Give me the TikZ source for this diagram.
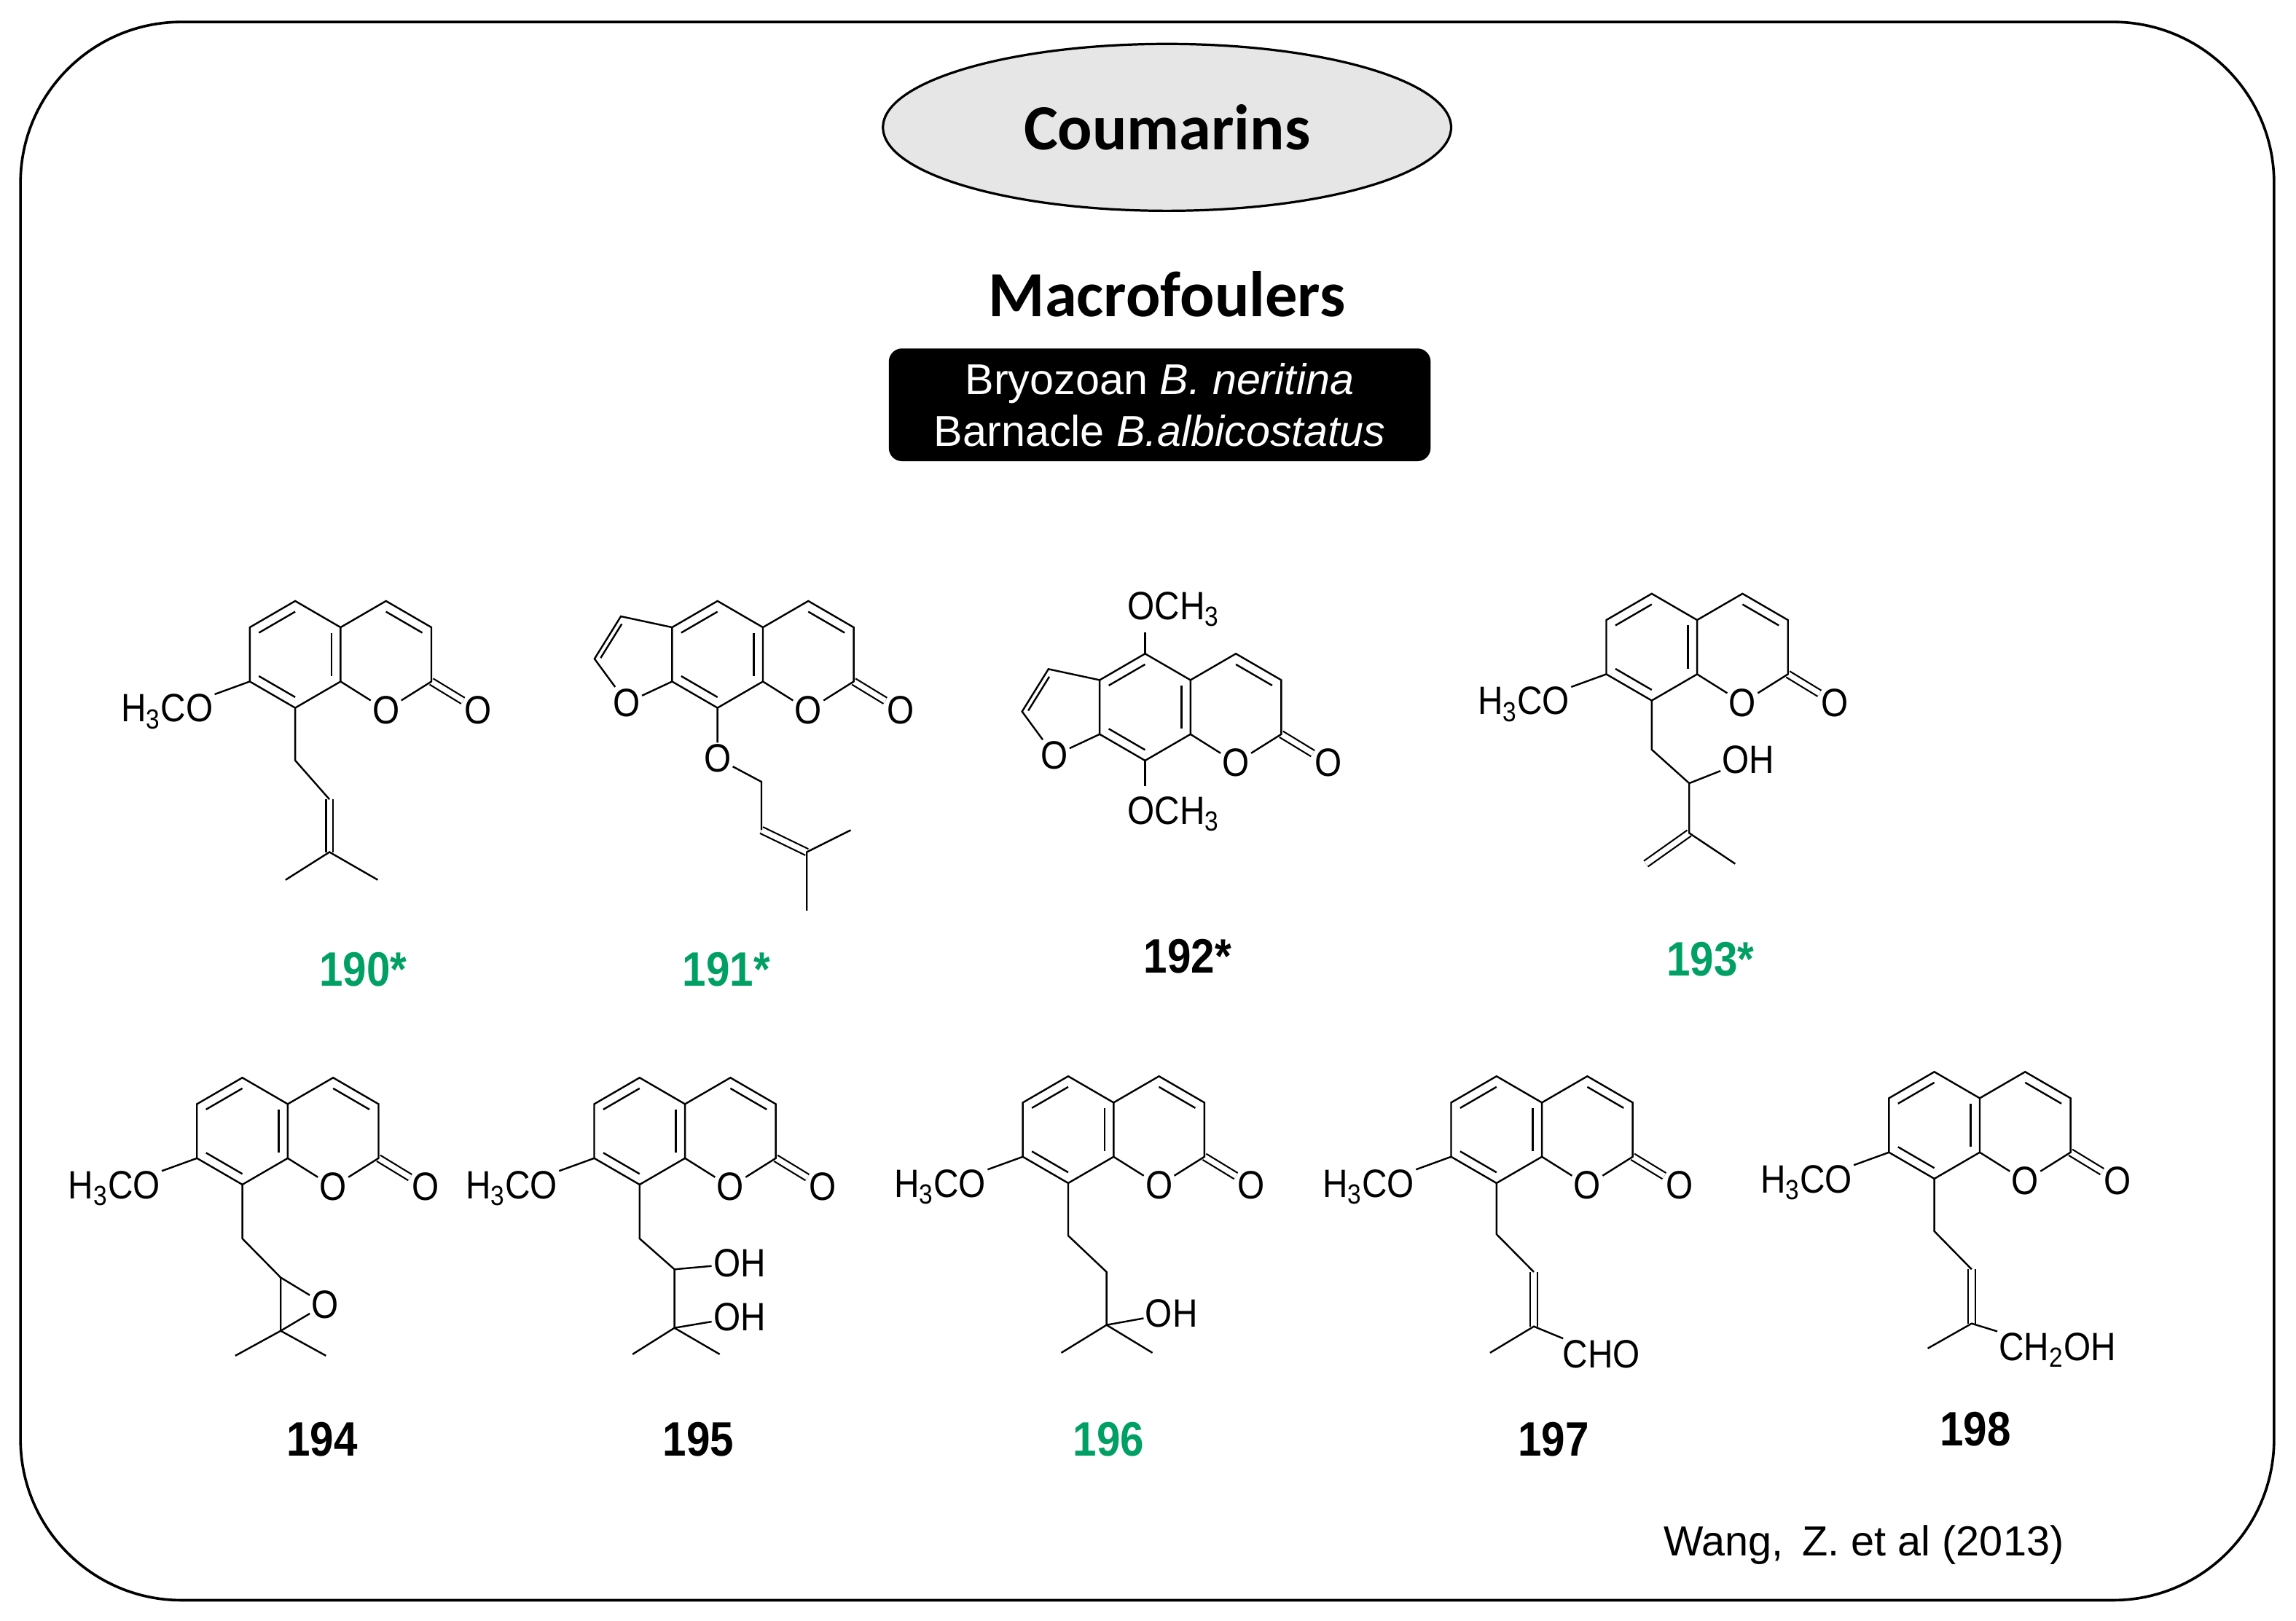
\documentclass[tikz,border=0pt]{standalone}
\usepackage{fontspec}
\setmainfont{Liberation Sans}
\newfontfamily\calib{Carlito}
\newfontfamily\nar[FakeStretch=0.88]{Liberation Sans}
\usetikzlibrary{calc,shapes.geometric}
\definecolor{grn}{RGB}{0,160,100}
\definecolor{elg}{RGB}{230,230,230}
\tikzset{
 bond/.style={line width=1.2pt},
 dbl/.style={double, double distance=3.6pt, line width=1.1pt},
 atom/.style={font=\nar\fontsize{27}{27}\selectfont, inner sep=1pt},
 num/.style={font=\nar\bfseries\fontsize{33}{33}\selectfont},
}
\newcommand\inb[3]{\draw[bond] ($(#1)!0.2!(#3)$) -- ($(#2)!0.2!(#3)$);}
\newcommand\coum[3]{%
\begin{scope}[shift={(#2,#3)}]
\coordinate (#1c) at (0,0); \coordinate (#1d) at (62,0);
\coordinate (#1a1) at (0,-36.5); \coordinate (#1a2) at (-31,-18.5);
\coordinate (#1a3) at (-31,18.5); \coordinate (#1a4) at (0,36.5);
\coordinate (#1a5) at (31,18.5); \coordinate (#1a6) at (31,-18.5);
\coordinate (#1b1) at (62,-36.5); \coordinate (#1b2) at (93,-18.5);
\coordinate (#1b3) at (93,18.5);
\node[atom] (#1O) at (62,38) {O};
\node[atom] (#1CO) at (125,38) {O};
\end{scope}
\draw[dbl] (#1b3)--(#1CO);
\draw[bond] (#1a1)--(#1a2)--(#1a3)--(#1a4)--(#1a5)--(#1a6)--cycle;
\draw[bond] (#1a6)--(#1b1)--(#1b2)--(#1b3)--(#1O)--(#1a5);
\inb{#1a1}{#1a2}{#1c}\inb{#1a3}{#1a4}{#1c}\inb{#1a5}{#1a6}{#1c}\inb{#1b1}{#1b2}{#1d}}
\newcommand\meo[1]{%
\node[atom,anchor=east] (#1M) at ($(#1c)+(-55,39)$) {H\textsubscript{3}CO};
\draw[bond] (#1a3)--(#1M);}
\newcommand\fur[1]{%
\coordinate (#1f3) at ($(#1c)+(-66,-26)$);
\coordinate (#1f2) at ($(#1c)+(-84,3)$);
\coordinate (#1fc) at ($(#1c)+(-63,0)$);
\node[atom] (#1fO) at ($(#1c)+(-62,33)$) {O};
\draw[bond] (#1a2)--(#1f3)--(#1f2)--(#1fO)--(#1a3);
\inb{#1f3}{#1f2}{#1fc}}
\begin{document}
\begin{tikzpicture}[x=1pt,y=-1pt]
\useasboundingbox (0,0) rectangle (1568,1107);
\draw[line width=1.8pt, rounded corners=110pt] (14,15) rectangle (1553,1093);
\node[draw, line width=1.6pt, fill=elg, ellipse, minimum width=388pt, minimum height=114pt, inner sep=0pt, font=\calib\bfseries\fontsize{44}{44}\selectfont] (title) at (797,87) {Coumarins};
\node[font=\calib\bfseries\fontsize{44}{44}\selectfont] (mac) at (797,201) {Macrofoulers};
\node[fill=black, rounded corners=9pt, minimum width=370pt, minimum height=77pt, text=white, align=center, font=\fontsize{29.5}{35}\selectfont] (box) at (792,276.5) {Bryozoan \textit{B. neritina}\\Barnacle \textit{B.albicostatus}};
\node[font=\fontsize{28.7}{28.7}\selectfont, anchor=east] (ref) at (1413,1055) {Wang,\, Z. et al (2013)};
% 190
\coum{A}{201.6}{447}\meo{A}
\coordinate (A1) at (201.6,519.4); \coordinate (A2) at (225,546); \coordinate (A3) at (225,582);
\coordinate (A4) at (195,601); \coordinate (A5) at (258,601);
\draw[dbl] (A2)--(A3);
\draw[bond] (Aa4)--(A1)--(A2); \draw[bond] (A4)--(A3)--(A5);
\node[num,text=grn] (n190) at (248,662) {190*};
% 191
\coum{B}{490}{447}\fur{B}
\node[atom] (BOx) at (490,518) {O};
\coordinate (B1) at (520,534); \coordinate (B2) at (520,567); \coordinate (B3) at (551,582);
\coordinate (B4) at (581,567); \coordinate (B5) at (551,622);
\draw[dbl] (B2)--(B3);
\draw[bond] (Ba4)--(BOx)--(B1)--(B2); \draw[bond] (B4)--(B3)--(B5);
\node[num,text=grn] (n191) at (496,662) {191*};
% 192
\coum{C}{782}{483}\fur{C}
\coordinate (Ct) at (782,432); \coordinate (Cb) at (782,537);
\node[atom,anchor=west] (Cm1) at (769,416) {OCH\textsubscript{3}};
\node[atom,anchor=west] (Cm2) at (769,556) {OCH\textsubscript{3}};
\draw[bond] (Ca1)--(Ct); \draw[bond] (Ca4)--(Cb);
\node[num] (n192) at (811,653) {192*};
% 193
\coum{D}{1128}{442}\meo{D}
\coordinate (D1) at (1128,512); \coordinate (D2) at (1153.6,535); \coordinate (D3) at (1153.6,569);
\coordinate (D4) at (1124,590); \coordinate (D5) at (1185,590);
\node[atom] (DOH) at (1194,519) {OH};
\draw[dbl] (D3)--(D4);
\draw[bond] (Da4)--(D1)--(D2)--(D3)--(D5); \draw[bond] (D2)--(DOH);
\node[num,text=grn] (n193) at (1168,655) {193*};
% 194
\coum{E}{165.5}{772.6}\meo{E}
\coordinate (E1) at (165.5,846); \coordinate (E2) at (191.7,872.6); \coordinate (E3) at (191.7,909);
\coordinate (E4) at (160.7,926); \coordinate (E5) at (222.6,926);
\node[atom] (EO) at (222,891) {O};
\draw[bond] (Ea4)--(E1)--(E2)--(E3)--(E4); \draw[bond] (E3)--(E5);
\draw[bond] (E2)--(EO)--(E3);
\node[num] (n194) at (220,983) {194};
% 195
\coum{F}{436.8}{772.6}\meo{F}
\coordinate (F1) at (436.8,846); \coordinate (F2) at (460.6,867); \coordinate (F3) at (460.6,907);
\coordinate (F4) at (432,925); \coordinate (F5) at (491.5,925);
\node[atom] (FOH1) at (505,863) {OH}; \node[atom] (FOH2) at (505,899.5) {OH};
\draw[bond] (Fa4)--(F1)--(F2)--(F3)--(F4); \draw[bond] (F3)--(F5);
\draw[bond] (F2)--(FOH1); \draw[bond] (F3)--(FOH2);
\node[num] (n195) at (477,983) {195};
% 196
\coum{G}{729.5}{771.6}\meo{G}
\coordinate (G1) at (729.5,844); \coordinate (G2) at (755.7,868.8); \coordinate (G3) at (755.7,905);
\coordinate (G4) at (724.8,924); \coordinate (G5) at (787,924);
\node[atom] (GOH) at (800,897) {OH};
\draw[bond] (Ga4)--(G1)--(G2)--(G3)--(G4); \draw[bond] (G3)--(G5); \draw[bond] (G3)--(GOH);
\node[num,text=grn] (n196) at (757,983) {196};
% 197
\coum{H}{1022}{771.6}\meo{H}
\coordinate (H1) at (1022,843); \coordinate (H2) at (1047.5,868.8); \coordinate (H3) at (1047.5,906);
\coordinate (H4) at (1017.6,924);
\node[atom,anchor=west] (HCHO) at (1066,925) {CHO};
\draw[dbl] (H2)--(H3);
\draw[bond] (Ha4)--(H1)--(H2); \draw[bond] (H4)--(H3)--(HCHO);
\node[num] (n197) at (1061,983) {197};
% 198
\coum{I}{1321}{768.6}\meo{I}
\coordinate (I1) at (1321,841); \coordinate (I2) at (1346.5,867); \coordinate (I3) at (1346.5,904);
\coordinate (I4) at (1316.5,921);
\node[atom,anchor=west] (ICH) at (1364,922) {CH\textsubscript{2}OH};
\draw[dbl] (I2)--(I3);
\draw[bond] (Ia4)--(I1)--(I2); \draw[bond] (I4)--(I3)--(ICH);
\node[num] (n198) at (1349,976) {198};
\end{tikzpicture}
\end{document}
